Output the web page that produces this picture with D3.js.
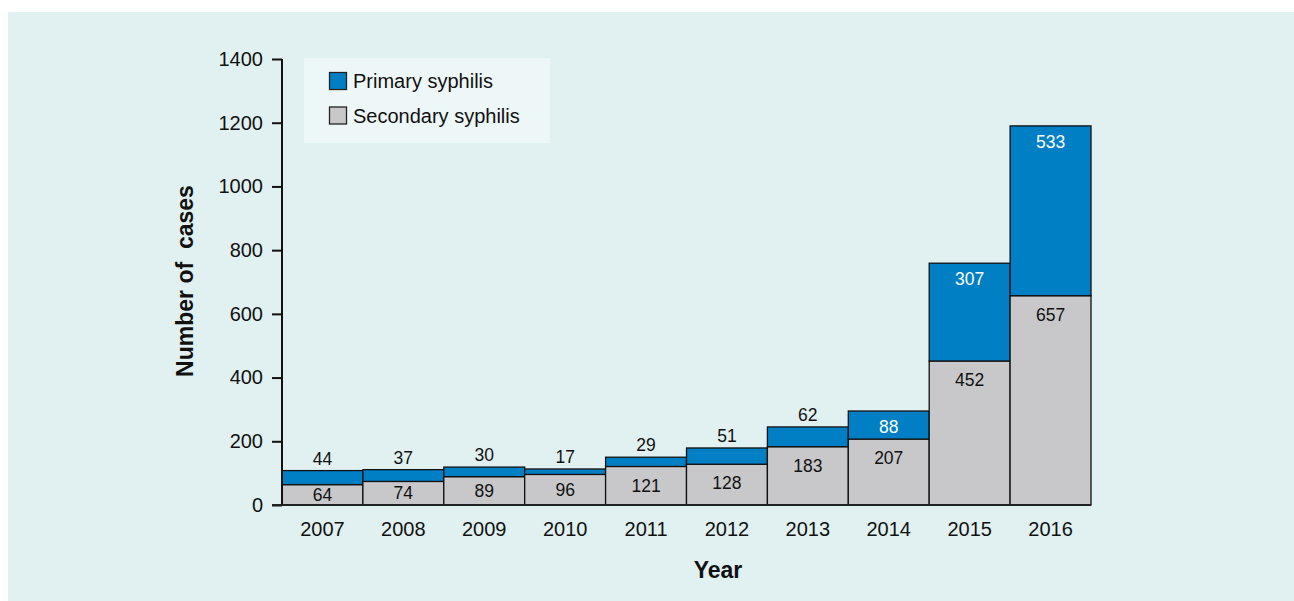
<!DOCTYPE html>
<html>
<head>
<meta charset="utf-8">
<script src="https://cdn.jsdelivr.net/npm/d3@7"></script>
<style>
  body { margin: 0; background: #fff; }
  text { font-family: "Liberation Sans", Arial, sans-serif; }
</style>
</head>
<body>
<svg id="chart" width="1294" height="601"></svg>
<script>
const years = ["2007", "2008", "2009", "2010", "2011", "2012", "2013", "2014", "2015", "2016"];
const secondary = [64, 74, 89, 96, 121, 128, 183, 207, 452, 657];
const primary = [44, 37, 30, 17, 29, 51, 62, 88, 307, 533];
const yTicks = [0, 200, 400, 600, 800, 1000, 1200, 1400];
const seriesNames = ["Primary syphilis", "Secondary syphilis"];

const blue = "#007fc4", grey = "#c8c8ca";

const svg = d3.select("#chart");
svg.append("rect").attr("x", 8).attr("y", 12).attr("width", 1286).attr("height", 589)
  .attr("fill", "#e1f1f1");

const plotLeft = 282, plotRight = 1091, plotTop = 59, plotBottom = 505;

const x = d3.scaleBand().domain(years).range([plotLeft, plotRight]).padding(0);
const y = d3.scaleLinear().domain([0, 1400]).range([plotBottom, plotTop]);

// bars
const rows = years.map((yr, i) => ({year: yr, sec: secondary[i], pri: primary[i]}));
const g = svg.append("g");
rows.forEach(d => {
  const x0 = x(d.year), w = x.bandwidth();
  g.append("rect").attr("x", x0).attr("y", y(d.sec)).attr("width", w)
    .attr("height", y(0) - y(d.sec)).attr("fill", grey).attr("stroke", "#111").attr("stroke-width", 1.3);
  g.append("rect").attr("x", x0).attr("y", y(d.sec + d.pri)).attr("width", w)
    .attr("height", y(d.sec) - y(d.sec + d.pri)).attr("fill", blue).attr("stroke", "#111").attr("stroke-width", 1.3);

  // secondary label: near top of segment, or centred if short
  const secTop = y(d.sec), secMid = (y(d.sec) + y(0)) / 2;
  g.append("text").attr("x", x0 + w / 2).attr("y", Math.min(secTop + 19, secMid))
    .attr("dy", "0.35em").attr("text-anchor", "middle").attr("font-size", 17.5)
    .attr("fill", "#111").text(d.sec);

  // primary label: inside (white) if tall enough, else above
  const priTop = y(d.sec + d.pri), priH = y(d.sec) - priTop;
  const inside = priH > 25;
  g.append("text").attr("x", x0 + w / 2).attr("y", inside ? priTop + 16 : priTop - 12)
    .attr("dy", "0.35em").attr("text-anchor", "middle").attr("font-size", 17.5)
    .attr("fill", inside ? "#fff" : "#111").text(d.pri);
});

// y axis
const yAxis = svg.append("g").attr("transform", `translate(${plotLeft},0)`)
  .call(d3.axisLeft(y).tickValues(yTicks).tickSize(10).tickPadding(9).tickFormat(d3.format("d")));
yAxis.select(".domain").attr("stroke", "#111").attr("stroke-width", 2).attr("d", `M0,${plotTop}V${plotBottom}`);
yAxis.selectAll(".tick line").attr("stroke", "#111").attr("stroke-width", 2);
yAxis.selectAll(".tick text").attr("font-size", 20).attr("fill", "#111")
  .style("font-family", "'Liberation Sans', Arial, sans-serif");

// x axis
const xAxis = svg.append("g").attr("transform", `translate(0,${plotBottom})`)
  .call(d3.axisBottom(x).tickSize(0).tickPadding(17));
xAxis.select(".domain").attr("stroke", "#222").attr("stroke-width", 2).attr("d", `M${plotLeft - 10},0H${plotRight}`);
xAxis.selectAll(".tick text").attr("font-size", 20).attr("fill", "#111")
  .style("font-family", "'Liberation Sans', Arial, sans-serif");

// titles
svg.append("text").attr("x", 718).attr("y", 578).attr("text-anchor", "middle")
  .attr("font-size", 23).attr("font-weight", "bold").attr("fill", "#111").text("Year");
svg.append("text").attr("transform", "translate(193,281) rotate(-90)").attr("text-anchor", "middle")
  .attr("font-size", 23).attr("font-weight", "bold").attr("fill", "#111")
  .attr("xml:space", "preserve").text("Number of  cases");

// legend
const leg = svg.append("g");
leg.append("rect").attr("x", 304).attr("y", 58).attr("width", 246).attr("height", 85).attr("fill", "#eef7f7");
seriesNames.forEach((name, i) => {
  const cy = 81 + i * 34.5;
  leg.append("rect").attr("x", 329.5).attr("y", cy - 8.5).attr("width", 17).attr("height", 17)
    .attr("fill", i === 0 ? blue : grey).attr("stroke", "#222").attr("stroke-width", 1.3);
  leg.append("text").attr("x", 353).attr("y", cy).attr("dy", "0.35em")
    .attr("font-size", 20).attr("fill", "#111").text(name);
});
</script>
</body>
</html>
